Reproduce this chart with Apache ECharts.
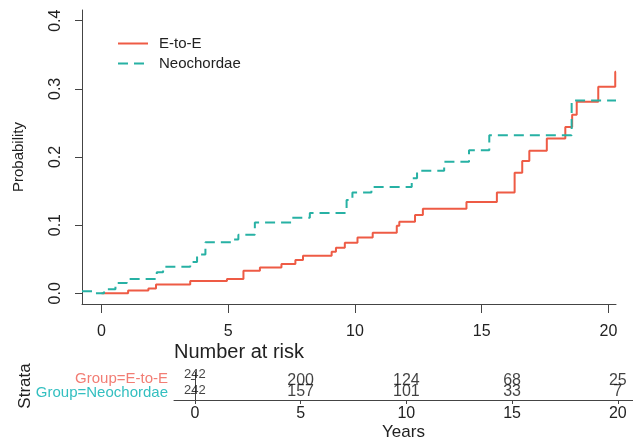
<!DOCTYPE html>
<html><head><meta charset="utf-8">
<script src="https://cdn.jsdelivr.net/npm/echarts@6/dist/echarts.min.js"></script>
<style>html,body{margin:0;padding:0;background:#fff}#c{width:633px;height:442px}</style>
</head><body><div id="c"></div>
<script>
// Cumulative incidence steps [year, probability]
const etoeSteps = [[0,0],[1.05,0.004],[1.85,0.007],[2.15,0.013],[3.5,0.018],[4.95,0.021],[5.6,0.033],[6.25,0.038],[7.1,0.043],[7.65,0.049],[7.95,0.055],[9.08,0.061],[9.25,0.067],[9.6,0.074],[10.1,0.082],[10.7,0.089],[11.65,0.099],[11.75,0.105],[12.37,0.115],[12.68,0.124],[14.4,0.134],[15.6,0.148],[16.3,0.177],[16.6,0.194],[16.88,0.209],[17.57,0.227],[18.3,0.244],[18.57,0.262],[18.75,0.281],[19.6,0.303],[20.27,0.325],[20.3,0.325]];
const neoSteps = [[-0.77,0.003],[-0.25,0.0],[0.1,0.006],[0.55,0.015],[1.0,0.021],[2.18,0.031],[2.43,0.039],[3.5,0.046],[3.77,0.057],[4.1,0.075],[5.13,0.079],[5.4,0.086],[6.05,0.104],[7.5,0.111],[8.22,0.118],[9.67,0.137],[9.9,0.148],[10.65,0.156],[12.24,0.169],[12.45,0.18],[13.52,0.193],[14.5,0.21],[15.3,0.232],[18.55,0.283],[20.3,0.283]];
const seriesNames = ['E-to-E','Neochordae'];
const strata = ['Group=E-to-E','Group=Neochordae'];
const xTicks = [0,5,10,15,20];
const yTicks = [0,0.1,0.2,0.3,0.4];
const riskTimes = [0,5,10,15,20];
const riskEtoE = [242,200,124,68,25];
const riskNeo = [242,157,101,33,7];

const RED = '#EE5B45', TEAL = '#27B1A4';
const RED_T = '#F27D74', TEAL_T = '#33BFC0';
const AX = '#444';
const FF = 'Liberation Sans, Arial, sans-serif';

function riskData(vals, row){
  return riskTimes.map((t,i)=>{
    const d = {value:[t,row,vals[i]]};
    if (i===0) d.label = {fontSize:13, offset:[0,row===0?-5:-3]};
    return d;
  });
}

const chart = echarts.init(document.getElementById('c'));
chart.setOption({
  animation:false,
  textStyle:{fontFamily:FF},
  grid:[
    {left:82, top:10, width:534, height:294},
    {left:174, top:372, width:459, height:31}
  ],
  legend:{
    left:112, top:31, orient:'vertical', itemWidth:30, itemHeight:14, itemGap:5,
    data:seriesNames,
    itemStyle:{opacity:0},
    textStyle:{fontSize:15, color:'#222', fontFamily:FF, padding:[0,0,0,6]}
  },
  xAxis:[
    {type:'value', gridIndex:0, min:-0.77, max:20.3,
     axisLine:{show:true, onZero:false, lineStyle:{color:AX, width:1}},
     axisTick:{show:true, length:9, customValues:xTicks, lineStyle:{color:AX}},
     axisLabel:{customValues:xTicks, fontSize:16, color:'#222', margin:20, fontFamily:FF},
     splitLine:{show:false}},
    {type:'value', gridIndex:1, min:-0.99, max:20.72,
     axisLine:{show:true, onZero:false, lineStyle:{color:AX, width:1}},
     axisTick:{show:true, length:4, customValues:xTicks, lineStyle:{color:AX}},
     axisLabel:{customValues:xTicks, fontSize:16, color:'#222', margin:6, fontFamily:FF},
     splitLine:{show:false},
     name:'Years', nameLocation:'middle', nameGap:24,
     nameTextStyle:{fontSize:17, color:'#222', fontFamily:FF}}
  ],
  yAxis:[
    {type:'value', gridIndex:0, min:-0.0157, max:0.4157,
     axisLine:{show:true, onZero:false, lineStyle:{color:AX, width:1}},
     axisTick:{show:true, length:7, customValues:yTicks, lineStyle:{color:AX}},
     axisLabel:{customValues:yTicks, rotate:90, fontSize:16, color:'#222', margin:18, fontFamily:FF,
       formatter:v=>v.toFixed(1)},
     splitLine:{show:false},
     name:'Probability', nameLocation:'middle', nameRotate:90, nameGap:56,
     nameTextStyle:{fontSize:15, color:'#222', fontFamily:FF}},
    {type:'category', gridIndex:1, inverse:true, data:strata,
     axisLine:{show:true, lineStyle:{color:AX, width:1}},
     axisTick:{show:true, length:4, alignWithLabel:true, lineStyle:{color:AX}},
     axisLabel:{interval:0, fontSize:15, margin:6, fontFamily:FF,
       formatter:(v,i)=> i===0 ? '{a|'+v+'}' : '{b|'+v+'}',
       rich:{a:{color:RED_T, fontSize:15, fontFamily:FF}, b:{color:TEAL_T, fontSize:15, fontFamily:FF}}},
     splitLine:{show:false},
     name:'Strata', nameLocation:'middle', nameRotate:90, nameGap:140, nameMoveOverlap:false,
     nameTextStyle:{fontSize:17, color:'#222', fontFamily:FF}}
  ],
  graphic:[
    {type:'text', left:174, top:342, style:{text:'Number at risk', fontSize:20, fill:'#222', fontFamily:FF}}
  ],
  series:[
    {name:seriesNames[0], type:'line', step:'end', xAxisIndex:0, yAxisIndex:0, data:etoeSteps,
     symbol:'none', lineStyle:{color:RED, width:2}, itemStyle:{color:RED}, clip:true},
    {name:seriesNames[1], type:'line', step:'end', xAxisIndex:0, yAxisIndex:0, data:neoSteps,
     symbol:'none', lineStyle:{color:TEAL, width:2, type:[10,6]}, itemStyle:{color:TEAL}, clip:true},
    {type:'scatter', xAxisIndex:1, yAxisIndex:1, symbolSize:0, data:riskData(riskEtoE,0),
     encode:{x:0,y:1},
     label:{show:true, position:'inside', offset:[0,2], fontSize:16, color:'#111', textBorderWidth:0, fontFamily:FF,
       formatter:p=>String(p.value[2])}},
    {type:'scatter', xAxisIndex:1, yAxisIndex:1, symbolSize:0, data:riskData(riskNeo,1),
     encode:{x:0,y:1},
     label:{show:true, position:'inside', offset:[0,-1], fontSize:16, color:'#111', textBorderWidth:0, fontFamily:FF,
       formatter:p=>String(p.value[2])}}
  ]
});
</script></body></html>
